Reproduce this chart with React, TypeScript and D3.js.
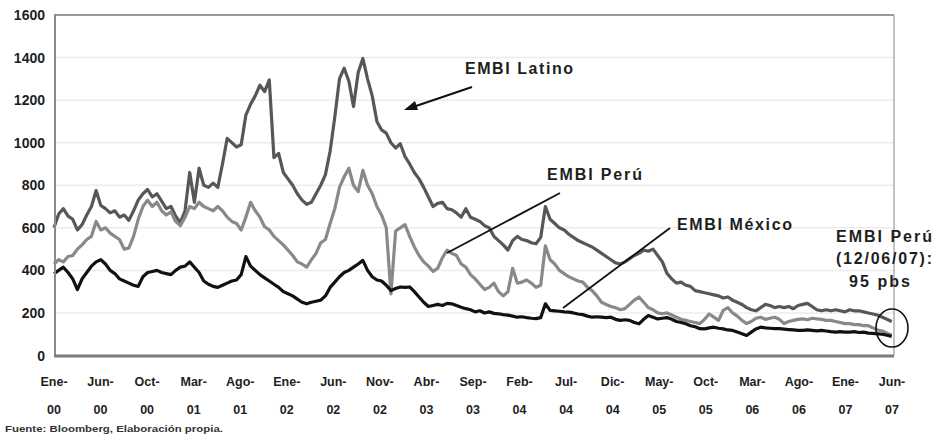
import React from "react";
import * as d3 from "d3";

const W = 934;
const H = 435;

// daily series sampled every ~half month, Jan 3 2000 -> Jun 12 2007
const START = new Date(2000, 0, 3);
const END = new Date(2007, 5, 12);
const TICK_STEP_DAYS = 151;

const LATINO = [
  600, 665, 690, 655, 640, 590, 615, 660, 700, 775,
  705, 690, 670, 680, 650, 660, 635, 680, 730, 760,
  780, 745, 760, 725, 690, 700, 655, 625, 680, 860,
  720, 880, 800, 790, 810, 790, 900, 1020, 1000, 980,
  990, 1130, 1180, 1220, 1270, 1240, 1295, 930, 950, 860,
  830, 800, 760, 730, 710, 720, 760, 800, 850, 960,
  1120, 1300, 1350, 1290, 1170, 1330, 1396, 1300, 1220, 1100,
  1060, 1045, 1000, 975, 995, 935, 900, 860, 830, 790,
  745, 700, 715, 720, 690, 685, 670, 650, 690, 650,
  640, 630, 610, 600, 560, 540, 520, 495, 540, 560,
  545, 540, 530, 525, 555, 700, 640, 620, 600, 590,
  570, 555, 540, 530, 520, 510, 495, 480, 465, 450,
  435, 430, 440, 455, 470, 480, 495, 490, 500, 470,
  440, 385, 360, 340, 345, 330, 325, 305, 300, 295,
  290, 285, 280, 270, 275, 260, 250, 240, 225, 215,
  210, 225, 240, 235, 225, 230, 225, 230, 220, 235,
  240, 245, 230, 215, 210, 215, 210, 215, 210, 205,
  215, 210, 210, 205, 200, 195, 190, 180, 170, 160,
];

const PERU = [
  430, 450, 440, 465, 470, 500, 520, 545, 560, 630,
  590, 600, 575, 560, 545, 500, 505, 560, 640, 700,
  730, 700, 720, 680, 660, 675, 630, 610, 650, 700,
  690, 720, 700, 690, 680, 700, 680, 650, 630, 620,
  590, 650, 720, 680, 650, 605, 590, 560, 540, 520,
  495, 470, 440, 430, 415, 450, 480, 530, 545, 620,
  690, 790, 840, 880, 800, 770, 870, 800, 760, 700,
  660, 600, 290, 585, 600, 615, 560, 510, 470, 440,
  420, 395, 410, 460, 495, 480, 470, 430, 415, 380,
  360, 335, 310, 320, 340, 300, 280, 300, 410, 340,
  345, 355, 340, 320, 330, 515, 450, 430, 400, 385,
  370, 360, 350, 345, 320, 305, 280, 250, 240, 230,
  225, 215, 220, 240, 260, 275, 250, 225, 215, 200,
  196, 200, 190, 180, 170, 165, 160, 155, 150, 170,
  195, 180, 165, 212, 225, 200, 185, 165, 150, 160,
  175, 180, 170, 175, 180, 170, 150, 160, 165, 170,
  172, 168, 175, 172, 170, 165, 165, 160, 155, 150,
  150, 145, 145, 140, 140, 130, 120, 115, 105, 95,
];

const MEXICO = [
  385, 400, 415, 390, 360, 310, 360, 390, 420, 440,
  450, 430, 400, 385, 360, 350, 340, 330, 325, 370,
  390, 395, 400, 390, 385, 380, 400, 415, 420, 440,
  415, 390, 350, 335, 325, 320, 330, 340, 350, 355,
  380, 465, 420, 400, 380, 365, 350, 335, 320, 300,
  290, 280, 265, 250, 243, 250, 255, 260, 280, 320,
  345, 370, 390, 400, 415, 430, 447, 400, 370, 355,
  350, 330, 305, 315, 322, 320, 322, 300, 275, 250,
  230, 235, 240, 235, 245, 243, 235, 227, 220, 215,
  205, 210, 200, 205, 198, 196, 192, 190, 185, 180,
  182, 178, 175, 173, 178, 243, 212, 210, 208, 205,
  204, 200, 195, 192, 185, 180, 182, 180, 178, 180,
  170, 165, 168, 165, 155, 149, 170, 188, 180, 172,
  175, 178, 170, 160, 155, 149, 140, 135, 126, 125,
  130, 133, 128, 125, 120, 118, 110, 102, 94, 110,
  125, 133, 130, 128, 126, 126, 124, 122, 120, 118,
  118, 120, 118, 116, 118, 115, 112, 110, 112, 110,
  110, 112, 108, 110, 105, 104, 102, 100, 95, 90,
];

const X_MONTHS = [
  "Ene-", "Jun-", "Oct-", "Mar-", "Ago-", "Ene-", "Jun-", "Nov-", "Abr-", "Sep-",
  "Feb-", "Jul-", "Dic-", "May-", "Oct-", "Mar-", "Ago-", "Ene-", "Jun-",
];
const X_YEARS = [
  "00", "00", "00", "01", "01", "02", "02", "02", "03", "03",
  "04", "04", "04", "05", "05", "06", "06", "07", "07",
];
const Y_TICKS = [0, 200, 400, 600, 800, 1000, 1200, 1400, 1600];

const FONT = "'Liberation Sans', Arial, Helvetica, sans-serif";
const TXT = "#1e1e1e";

export default function App() {
  const tickDates = X_MONTHS.map((_, k) => d3.timeDay.offset(START, k * TICK_STEP_DAYS));
  const x = d3
    .scaleTime()
    .domain([START, tickDates[tickDates.length - 1]])
    .range([54, 892]);
  const y = d3.scaleLinear().domain([0, 1600]).range([355.5, 15]);

  const N = LATINO.length;
  const step = (END.getTime() - START.getTime()) / (N - 1);
  const dates = d3.range(N).map((i) => new Date(START.getTime() + i * step));

  const line = d3
    .line<number>()
    .x((_, i) => x(dates[i]))
    .y((v) => y(v));

  const plotL = 55;
  const plotR = 894;

  return (
    <div style={{ position: "fixed", left: 0, top: 0, width: W, height: H, background: "#fff" }}>
      <svg width={W} height={H} style={{ display: "block" }}>
        <rect x={0} y={0} width={W} height={H} fill="#fff" />
        {/* gridlines */}
        {Y_TICKS.filter((t) => t > 0).map((t) => (
          <line key={t} x1={plotL} x2={plotR} y1={y(t)} y2={y(t)} stroke="#ececec" strokeWidth={1.5} />
        ))}
        {/* frame */}
        <line x1={plotL} x2={plotR} y1={y(1600)} y2={y(1600)} stroke="#9a9a9a" strokeWidth={2} />
        <line x1={plotR} x2={plotR} y1={y(1600)} y2={y(0)} stroke="#9a9a9a" strokeWidth={1.2} />

        {/* series */}
        <path d={line(LATINO) || ""} fill="none" stroke="#575757" strokeWidth={3.2} strokeLinejoin="round" />
        <path d={line(PERU) || ""} fill="none" stroke="#898989" strokeWidth={3.2} strokeLinejoin="round" />
        <path d={line(MEXICO) || ""} fill="none" stroke="#111" strokeWidth={3.2} strokeLinejoin="round" />

        {/* axes */}
        <line x1={plotL} x2={plotL} y1={y(1600) - 1} y2={y(0) + 1} stroke="#8a8a8a" strokeWidth={2} />
        <line x1={plotL - 1} x2={plotR} y1={y(0) + 0.5} y2={y(0) + 0.5} stroke="#7a7a7a" strokeWidth={3} />

        {/* y labels */}
        {Y_TICKS.map((t) => (
          <text
            key={t}
            x={45}
            y={y(t) + 5}
            textAnchor="end"
            fontFamily={FONT}
            fontWeight="bold"
            fontSize={14}
            fill={TXT}
          >
            {t}
          </text>
        ))}

        {/* x labels */}
        {tickDates.map((d, k) => (
          <g key={k} transform={`translate(${x(d)},0)`}>
            <text y={386} textAnchor="middle" fontFamily={FONT} fontWeight="bold" fontSize={12.5} fill={TXT}>
              {X_MONTHS[k]}
            </text>
            <text y={414} textAnchor="middle" fontFamily={FONT} fontWeight="bold" fontSize={12.5} fill={TXT}>
              {X_YEARS[k]}
            </text>
          </g>
        ))}

        {/* annotations */}
        <text x={465} y={74} fontFamily={FONT} fontWeight="bold" fontSize={16} fill={TXT} textLength={108} lengthAdjust="spacing">
          EMBI Latino
        </text>
        <line x1={472} y1={87} x2={413} y2={107} stroke="#111" strokeWidth={2} />
        <polygon points="404,110 415,101 418,110" fill="#111" />

        <text x={547} y={180} fontFamily={FONT} fontWeight="bold" fontSize={16} fill={TXT} textLength={95} lengthAdjust="spacing">
          EMBI Perú
        </text>
        <line x1={560} y1={193} x2={447} y2={253} stroke="#111" strokeWidth={1.8} />

        <text x={677} y={230} fontFamily={FONT} fontWeight="bold" fontSize={16} fill={TXT} textLength={115} lengthAdjust="spacing">
          EMBI México
        </text>
        <line x1={670} y1={228} x2={563} y2={308} stroke="#111" strokeWidth={1.8} />

        <text x={836} y={242} fontFamily={FONT} fontWeight="bold" fontSize={16} fill={TXT} textLength={96} lengthAdjust="spacing">
          EMBI Perú
        </text>
        <text x={836} y={264} fontFamily={FONT} fontWeight="bold" fontSize={16} fill={TXT} textLength={96} lengthAdjust="spacing">
          (12/06/07):
        </text>
        <text x={849} y={287} fontFamily={FONT} fontWeight="bold" fontSize={16} fill={TXT} textLength={61} lengthAdjust="spacing">
          95 pbs
        </text>
        <ellipse cx={892} cy={328} rx={16} ry={19} fill="none" stroke="#111" strokeWidth={1.6} />

        {/* source */}
        <text x={5} y={432} fontFamily={FONT} fontWeight="bold" fontSize={8.5} fill="#333" textLength={218} lengthAdjust="spacingAndGlyphs">
          Fuente: Bloomberg, Elaboración propia.
        </text>
      </svg>
    </div>
  );
}
